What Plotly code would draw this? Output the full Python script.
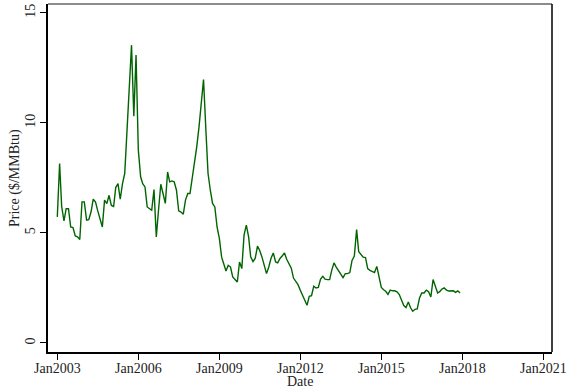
import pandas as pd
import plotly.graph_objects as go

# Monthly natural gas price, Jan 2003 - Dec 2017 ($/MMBtu)
start_month = "2003-01-01"
prices = [
    # 2003
    5.73, 8.15, 6.20, 5.55, 6.10, 6.10, 5.27, 5.24, 4.86, 4.82, 4.70, 6.41,
    # 2004
    6.41, 5.58, 5.60, 5.95, 6.53, 6.40, 6.00, 5.58, 5.27, 6.49, 6.33, 6.71,
    # 2005
    6.25, 6.20, 7.06, 7.24, 6.53, 7.24, 7.70, 9.66, 11.60, 13.53, 10.30, 13.08,
    # 2006
    8.76, 7.55, 7.24, 7.09, 6.18, 6.10, 6.03, 6.97, 4.82, 6.03, 7.21, 6.79,
    # 2007
    6.34, 7.77, 7.32, 7.36, 7.32, 6.94, 6.00, 5.95, 5.85, 6.49, 6.79, 6.79,
    # 2008
    7.55, 8.08, 8.91, 9.82, 10.90, 11.97, 9.80, 7.70, 6.94, 6.34, 6.18, 5.27,
    # 2009
    4.75, 3.90, 3.60, 3.27, 3.53, 3.45, 3.00, 2.90, 2.77, 3.68, 3.38, 4.90,
    # 2010
    5.35, 4.82, 3.91, 3.70, 3.84, 4.40, 4.20, 3.90, 3.50, 3.15, 3.45, 3.85,
    # 2011
    4.09, 3.68, 3.64, 3.84, 3.95, 4.09, 3.80, 3.60, 3.40, 2.95, 2.80, 2.65,
    # 2012
    2.40, 2.15, 1.95, 1.71, 2.12, 2.15, 2.58, 2.50, 2.52, 2.90, 3.03, 2.90,
    # 2013
    2.88, 2.88, 3.30, 3.64, 3.45, 3.30, 3.10, 2.97, 3.15, 3.15, 3.20, 3.75,
    # 2014
    3.95, 5.15, 4.15, 4.00, 3.90, 3.88, 3.38, 3.30, 3.25, 3.20, 3.48, 2.92,
    # 2015
    2.52, 2.42, 2.35, 2.21, 2.40, 2.37, 2.37, 2.32, 2.20, 1.95, 1.70, 1.61,
    # 2016
    1.86, 1.60, 1.44, 1.53, 1.55, 2.05, 2.27, 2.27, 2.40, 2.33, 2.09, 2.88,
    # 2017
    2.62, 2.27, 2.33, 2.45, 2.50, 2.40, 2.36, 2.35, 2.37, 2.30, 2.37, 2.27,
]
dates = pd.date_range(start_month, periods=len(prices), freq="MS")

x_tick_years = [2003, 2006, 2009, 2012, 2015, 2018, 2021]
x_tick_vals = [pd.Timestamp(f"{y}-01-01") for y in x_tick_years]
x_tick_text = [f"Jan{y}" for y in x_tick_years]
y_tick_vals = [0, 5, 10, 15]

serif = "Liberation Serif, Times New Roman, serif"

fig = go.Figure()
fig.add_trace(go.Scatter(
    x=dates, y=prices, mode="lines",
    line=dict(color="#006400", width=1.4),
    showlegend=False,
))

fig.update_layout(
    width=573, height=390,
    margin=dict(l=48, r=21, t=4, b=38),
    paper_bgcolor="white", plot_bgcolor="white",
    font=dict(family=serif, size=14, color="#222"),
    xaxis=dict(
        range=[pd.Timestamp("2002-08-28"), pd.Timestamp("2021-04-28")],
        tickvals=x_tick_vals, ticktext=x_tick_text,
        ticks="outside", ticklen=6, tickcolor="black", tickwidth=1,
        ticklabelstandoff=-4,
        showgrid=False, zeroline=False, automargin=False,
        showline=True, linecolor="black", linewidth=1.5,
    ),
    yaxis=dict(
        range=[-0.41, 15.4],
        tickvals=y_tick_vals, tickangle=-90,
        ticks="outside", ticklen=6, tickcolor="black", tickwidth=1,
        showgrid=False, zeroline=False, automargin=False,
        showline=True, linecolor="black", linewidth=1.5,
    ),
    annotations=[
        dict(text="Date", xref="paper", yref="paper", x=0.5, y=0,
             xanchor="center", yanchor="bottom", yshift=-38, borderpad=0,
             showarrow=False, font=dict(size=14)),
        dict(text="Price ($/MMBtu)", xref="paper", yref="paper", x=0, y=0.5,
             xanchor="center", yanchor="middle", xshift=-33, textangle=-90,
             showarrow=False, font=dict(size=14)),
    ],
    shapes=[
        dict(type="line", xref="paper", yref="paper", x0=0, x1=1, y0=1, y1=1,
             line=dict(color="#8c8c8c", width=2)),
        dict(type="line", xref="paper", yref="paper", x0=1, x1=1, y0=0, y1=1,
             line=dict(color="black", width=1.5)),
    ],
)

fig.write_html("out.html")
